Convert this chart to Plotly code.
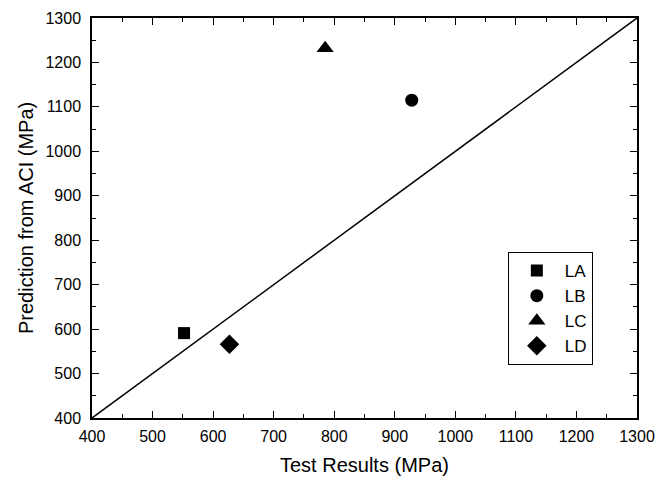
import plotly.graph_objects as go

# specimen results
labels = ["LA", "LB", "LC", "LD"]
test_mpa = [552, 928, 785, 627]
aci_mpa = [591, 1115, 1232, 566]
symbols = ["square", "circle", "triangle-up", "diamond"]
sizes = [12, 13, 15, 15]

line_x = [400, 1300]
line_y = [400, 1300]

fig = go.Figure()

fig.add_trace(go.Scatter(x=line_x, y=line_y, mode="lines",
                         line=dict(color="black", width=1.5),
                         showlegend=False, hoverinfo="skip"))

for name, x, y, sym, sz in zip(labels, test_mpa, aci_mpa, symbols, sizes):
    fig.add_trace(go.Scatter(x=[x], y=[y], mode="markers", name=name,
                             marker=dict(symbol=sym, size=sz, color="black")))

axis_common = dict(
    showgrid=False, zeroline=False, showline=True, linecolor="black",
    linewidth=1.5, mirror="ticks", ticks="inside", ticklen=7, tickwidth=1.2,
    tickcolor="black", dtick=100, automargin=False,
    minor=dict(ticks="inside", dtick=50, ticklen=4, tickwidth=1.2, tickcolor="black"),
    tickfont=dict(size=16, color="black"),
)

fig.update_xaxes(range=[400, 1300], ticklabelstandoff=3, **axis_common)
fig.update_yaxes(range=[400, 1300], ticklabelstandoff=6, **axis_common)

# axis titles
fig.add_annotation(text="Test Results (MPa)", xref="paper", yref="paper",
                   x=0.5, y=-0.117, xanchor="center", yanchor="middle",
                   showarrow=False, font=dict(size=20))
fig.add_annotation(text="Prediction from ACI (MPa)", xref="paper", yref="paper",
                   x=-0.121, y=0.5, xanchor="center", yanchor="middle",
                   textangle=-90, showarrow=False, font=dict(size=20))

# page body adds an 8px offset, so the figure is sized to fit inside the window
fig.update_layout(
    width=659, height=470,
    margin=dict(l=84, r=30, t=10, b=60),
    paper_bgcolor="white", plot_bgcolor="white",
    font=dict(family="Arial, Liberation Sans, sans-serif", color="black"),
    legend=dict(x=0.763, y=0.415, xanchor="left", yanchor="top",
                bordercolor="black", borderwidth=1, bgcolor="white",
                font=dict(size=17), itemwidth=46, tracegroupgap=0),
)

fig.write_html("out.html")
